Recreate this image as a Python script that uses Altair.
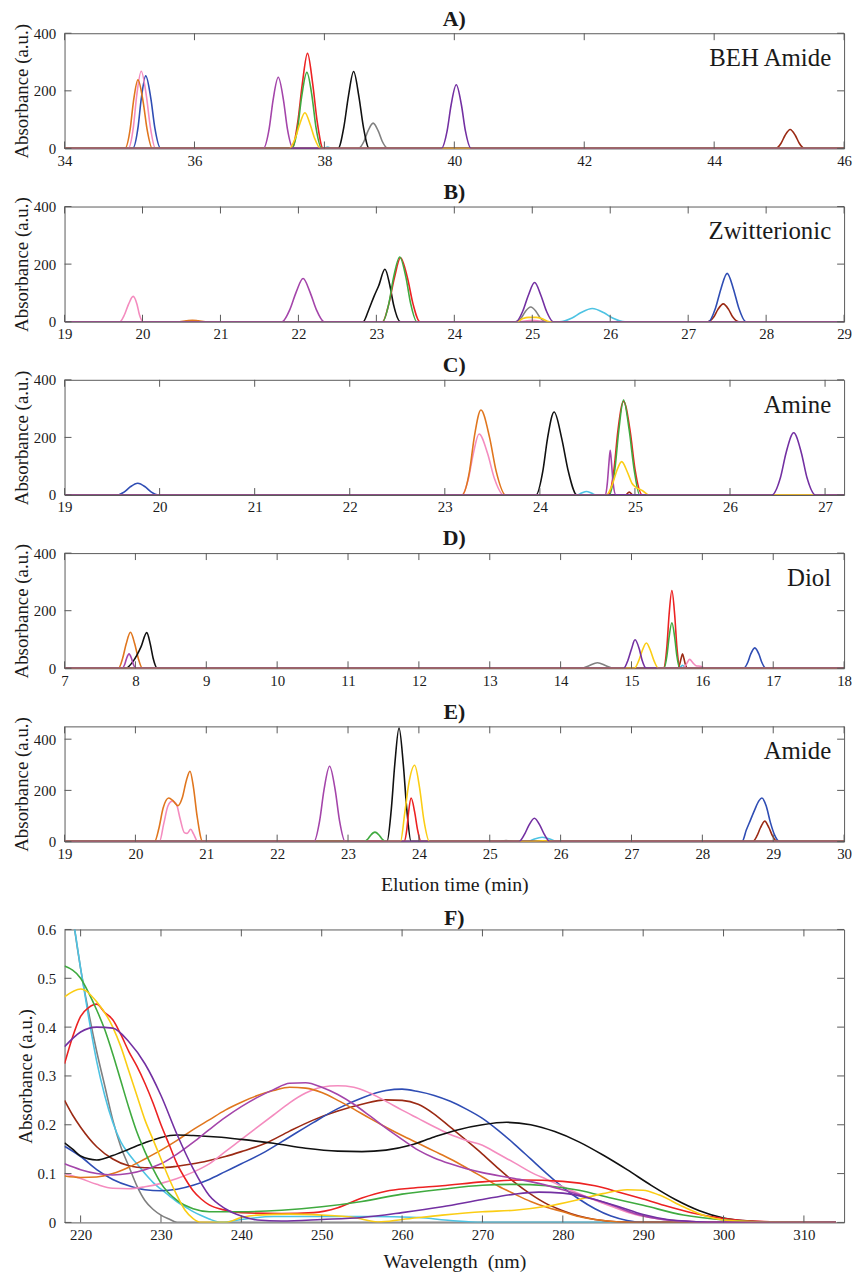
import altair as alt
import pandas as pd

FONT = "Liberation Serif"
FRAME = "#5a5a5a"
INK = "#1a1a1a"
PLOT_W = 785
PANEL_H = 116
F_H = 295

COLORS = {
    "gray": "#808080", "cyan": "#4dc3e3", "brown": "#9b2a14", "blue": "#2f4db4",
    "pink": "#f48cbf", "orange": "#e0761e", "black": "#111111", "red": "#ec2222",
    "green": "#3faa3f", "magenta": "#a445aa", "yellow": "#fbcd14", "purple": "#7330a2",
}
# later traces are painted over earlier ones
DRAW_ORDER = ["gray", "cyan", "brown", "blue", "pink", "orange", "black",
              "red", "green", "magenta", "yellow", "purple"]

# ---- chromatogram peaks: (elution times in min, absorbance) per compound ----
A_PEAKS = {
    "orange": ([34.93, 35.01, 35.06, 35.13, 35.21, 35.27, 35.35], [0, 67, 162, 238, 162, 67, 0]),
    "pink": ([34.98, 35.06, 35.11, 35.18, 35.26, 35.32, 35.40], [0, 75, 182, 268, 182, 75, 0]),
    "blue": ([35.05, 35.13, 35.18, 35.25, 35.33, 35.39, 35.48], [0, 71, 171, 252, 171, 71, 0]),
    "magenta": ([37.06, 37.15, 37.21, 37.29, 37.37, 37.43, 37.52], [0, 69, 168, 247, 168, 69, 0]),
    "red": ([37.50, 37.59, 37.66, 37.74, 37.82, 37.89, 37.98], [0, 92, 224, 330, 224, 92, 0]),
    "green": ([37.50, 37.59, 37.65, 37.73, 37.81, 37.87, 37.96], [0, 74, 180, 264, 180, 74, 0]),
    "yellow": ([37.46, 37.55, 37.62, 37.70, 37.78, 37.85, 37.94], [0, 35, 84, 124, 84, 35, 0]),
    "cyan": ([37.99, 38.05, 38.11], [0, 5, 0]),
    "black": ([38.21, 38.30, 38.37, 38.45, 38.53, 38.60, 38.69], [0, 75, 182, 267, 182, 75, 0]),
    "gray": ([38.52, 38.61, 38.67, 38.75, 38.83, 38.89, 38.98], [0, 25, 60, 88, 60, 25, 0]),
    "purple": ([39.80, 39.89, 39.95, 40.03, 40.11, 40.17, 40.26], [0, 62, 150, 221, 150, 62, 0]),
    "brown": ([44.95, 45.03, 45.09, 45.17, 45.25, 45.31, 45.39], [0, 18, 45, 66, 45, 18, 0]),
}

B_PEAKS = {
    "pink": ([19.71, 19.77, 19.82, 19.88, 19.93, 19.96, 20.01, 24.82, 25.00, 25.18],
             [0, 25, 60, 88, 60, 25, 0, 0, 5, 0]),
    "orange": ([20.44, 20.56, 20.64, 20.72, 20.84], [0, 3, 5, 3, 0]),
    "magenta": ([21.79, 21.89, 21.97, 22.06, 22.15, 22.23, 22.33], [0, 42, 102, 150, 102, 42, 0]),
    "black": ([22.83, 22.90, 22.97, 23.03, 23.11, 23.17, 23.22, 23.31], [0, 40, 88, 125, 182, 130, 60, 0]),
    "red": ([23.08, 23.16, 23.23, 23.31, 23.40, 23.47, 23.56], [0, 62, 151, 222, 151, 62, 0]),
    "green": ([23.08, 23.16, 23.22, 23.30, 23.38, 23.44, 23.52], [0, 63, 153, 225, 153, 63, 0]),
    "gray": ([24.78, 24.86, 24.91, 24.98, 25.05, 25.10, 25.18], [0, 14, 35, 51, 35, 14, 0]),
    "yellow": ([24.80, 24.88, 24.95, 25.05, 25.12, 25.22], [0, 11, 15, 15, 11, 0]),
    "purple": ([24.79, 24.88, 24.95, 25.03, 25.11, 25.18, 25.27], [0, 38, 92, 136, 92, 38, 0]),
    "cyan": ([25.35, 25.51, 25.62, 25.77, 25.92, 26.03, 26.19], [0, 13, 31, 46, 31, 13, 0]),
    "brown": ([27.25, 27.33, 27.38, 27.45, 27.52, 27.57, 27.65], [0, 17, 42, 62, 42, 17, 0]),
    "blue": ([27.26, 27.35, 27.42, 27.50, 27.58, 27.65, 27.74], [0, 47, 114, 168, 114, 47, 0]),
}

C_PEAKS = {
    "blue": ([19.54, 19.63, 19.69, 19.77, 19.85, 19.91, 19.99], [0, 11, 28, 41, 28, 11, 0]),
    "orange": ([23.18, 23.26, 23.31, 23.38, 23.47, 23.54, 23.64], [0, 83, 201, 295, 201, 83, 0]),
    "pink": ([23.18, 23.25, 23.30, 23.36, 23.45, 23.52, 23.62], [0, 59, 144, 212, 144, 59, 0]),
    "black": ([23.96, 24.03, 24.08, 24.15, 24.23, 24.30, 24.39], [0, 81, 196, 288, 196, 81, 0]),
    "cyan": ([24.39, 24.44, 24.49, 24.54, 24.59], [0, 7, 12, 7, 0]),
    "magenta": ([24.69, 24.71, 24.725, 24.74, 24.755, 24.77, 24.80], [0, 43, 105, 155, 105, 43, 0]),
    "red": ([24.72, 24.78, 24.82, 24.88, 24.95, 25.00, 25.08], [0, 91, 221, 325, 221, 91, 0]),
    "green": ([24.73, 24.79, 24.83, 24.88, 24.94, 24.99, 25.05], [0, 92, 224, 330, 224, 92, 0]),
    "yellow": ([24.70, 24.76, 24.81, 24.86, 24.92, 24.97, 25.02, 25.08, 25.15],
               [0, 35, 85, 116, 80, 40, 25, 15, 0]),
    "brown": ([24.90, 24.94, 24.98], [0, 10, 0]),
    "purple": ([26.44, 26.53, 26.59, 26.67, 26.75, 26.81, 26.90], [0, 60, 147, 216, 147, 60, 0]),
}

D_PEAKS = {
    "orange": ([7.76, 7.82, 7.87, 7.93, 7.99, 8.04, 8.10], [0, 35, 85, 125, 85, 35, 0]),
    "magenta": ([7.81, 7.85, 7.875, 7.91, 7.945, 7.97, 8.01], [0, 14, 34, 50, 34, 14, 0]),
    "black": ([7.86, 7.97, 8.08, 8.16, 8.21, 8.25, 8.31], [0, 25, 75, 124, 84, 35, 0]),
    "gray": ([14.30, 14.40, 14.52, 14.64, 14.74], [0, 9, 19, 9, 0]),
    "purple": ([14.89, 14.95, 15.00, 15.05, 15.11, 15.15, 15.21], [0, 28, 67, 99, 67, 28, 0]),
    "yellow": ([15.04, 15.10, 15.15, 15.21, 15.27, 15.32, 15.38], [0, 25, 60, 88, 60, 25, 0]),
    "red": ([15.45, 15.50, 15.53, 15.57, 15.61, 15.64, 15.69], [0, 76, 184, 270, 184, 76, 0]),
    "green": ([15.46, 15.50, 15.53, 15.57, 15.61, 15.64, 15.68], [0, 44, 107, 158, 107, 44, 0]),
    "brown": ([15.65, 15.68, 15.70, 15.72, 15.74, 15.76, 15.79], [0, 14, 34, 50, 34, 14, 0]),
    "cyan": ([15.67, 15.72, 15.77], [0, 10, 0]),
    "pink": ([15.72, 15.76, 15.79, 15.82, 15.87, 15.91, 15.97, 16.05], [0, 9, 21, 31, 18, 9, 7, 0]),
    "blue": ([16.58, 16.64, 16.68, 16.74, 16.80, 16.84, 16.90], [0, 20, 48, 71, 48, 20, 0]),
}

E_PEAKS = {
    "orange": ([20.27, 20.33, 20.39, 20.47, 20.53, 20.60, 20.66, 20.72, 20.77, 20.82, 20.87, 20.95],
               [0, 50, 130, 170, 160, 140, 170, 240, 275, 210, 100, 0]),
    "pink": ([20.34, 20.40, 20.46, 20.52, 20.58, 20.63, 20.69, 20.73, 20.78, 20.82, 20.88],
             [0, 70, 140, 158, 145, 90, 35, 32, 48, 30, 0]),
    "magenta": ([22.52, 22.60, 22.66, 22.74, 22.82, 22.88, 22.96], [0, 82, 200, 294, 200, 82, 0]),
    "green": ([23.22, 23.28, 23.32, 23.38, 23.44, 23.48, 23.54], [0, 10, 25, 37, 25, 10, 0]),
    "black": ([23.55, 23.61, 23.66, 23.72, 23.78, 23.83, 23.89], [0, 124, 302, 444, 302, 124, 0]),
    "yellow": ([23.74, 23.80, 23.86, 23.94, 24.01, 24.07, 24.15, 25.55, 25.75, 25.95],
               [0, 110, 230, 298, 210, 85, 0, 0, 3, 0]),
    "red": ([23.79, 23.83, 23.855, 23.89, 23.94, 23.98, 24.03], [0, 48, 116, 170, 116, 48, 0]),
    "gray": ([25.10, 25.23, 25.36], [0, 4, 0]),
    "purple": ([25.41, 25.49, 25.55, 25.63, 25.71, 25.77, 25.85], [0, 28, 62, 91, 62, 28, 0]),
    "cyan": ([25.54, 25.62, 25.74, 25.86, 25.94], [0, 9, 17, 9, 0]),
    "blue": ([28.56, 28.62, 28.68, 28.74, 28.80, 28.84, 28.90, 28.96, 29.02, 29.09],
             [0, 45, 85, 125, 160, 170, 140, 75, 25, 0]),
    "brown": ([28.71, 28.77, 28.82, 28.88, 28.94, 28.99, 29.06], [0, 22, 54, 80, 54, 22, 0]),
}

# ---- UV spectra: (wavelength nm, absorbance) ----
F_SPECTRA = {
    "gray": [(218, 0.76), (219, 0.63), (220, 0.52), (221, 0.43), (222, 0.35), (223, 0.28),
             (224, 0.21), (225, 0.155), (226, 0.115), (227, 0.075), (228, 0.045), (229, 0.027),
             (230, 0.015), (231, 0.007), (232, 0.0), (314, 0.0)],
    "cyan": [(218, 0.74), (219, 0.63), (220, 0.52), (221, 0.42), (222, 0.33), (223, 0.26),
             (224, 0.205), (225, 0.165), (226, 0.14), (227, 0.12), (228, 0.1), (229, 0.082),
             (230, 0.068), (231, 0.055), (232, 0.042), (233, 0.032), (234, 0.022), (235, 0.014),
             (236, 0.007), (237.5, 0.0), (240, 0.006), (244, 0.012), (256, 0.012), (262, 0.01),
             (266, 0.004), (270, 0.0), (314, 0.0)],
    "brown": [(218, 0.25), (219, 0.22), (220, 0.195), (222, 0.155), (224, 0.13), (226, 0.116),
              (228, 0.112), (230, 0.112), (232, 0.115), (234, 0.12), (236, 0.127), (238, 0.135),
              (240, 0.145), (243, 0.162), (246, 0.187), (249, 0.21), (252, 0.228), (255, 0.242),
              (258, 0.251), (260, 0.25), (262, 0.242), (264, 0.222), (266, 0.195), (268, 0.168),
              (270, 0.14), (272, 0.11), (274, 0.082), (276, 0.058), (278, 0.038), (280, 0.024),
              (282, 0.013), (284, 0.006), (287, 0.001), (290, 0.0), (314, 0.0)],
    "blue": [(218, 0.156), (220, 0.135), (222, 0.108), (224, 0.088), (226, 0.075), (228, 0.067),
             (230, 0.065), (232, 0.068), (234, 0.076), (236, 0.088), (238, 0.104), (240, 0.12),
             (243, 0.145), (246, 0.175), (249, 0.205), (252, 0.233), (255, 0.255), (258, 0.27),
             (260, 0.273), (262, 0.268), (264, 0.26), (266, 0.248), (268, 0.232), (270, 0.213),
             (272, 0.188), (274, 0.16), (276, 0.13), (278, 0.1), (280, 0.072), (282, 0.048),
             (284, 0.028), (286, 0.013), (288, 0.004), (290, 0.0), (314, 0.0)],
    "pink": [(218, 0.1), (220, 0.09), (222, 0.078), (224, 0.07), (226, 0.069), (228, 0.073),
             (230, 0.08), (232, 0.09), (234, 0.103), (236, 0.12), (238, 0.145), (240, 0.17),
             (242, 0.195), (244, 0.22), (246, 0.245), (248, 0.265), (250, 0.277), (252, 0.28),
             (254, 0.277), (256, 0.265), (258, 0.248), (260, 0.23), (262, 0.213), (264, 0.196),
             (266, 0.18), (268, 0.168), (270, 0.158), (272, 0.14), (274, 0.122), (276, 0.103),
             (278, 0.088), (280, 0.073), (283, 0.052), (286, 0.033), (289, 0.016), (292, 0.007),
             (296, 0.002), (300, 0.0), (314, 0.0)],
    "orange": [(218, 0.095), (220, 0.092), (222, 0.093), (224, 0.1), (226, 0.113), (228, 0.13),
               (230, 0.148), (232, 0.168), (234, 0.19), (236, 0.21), (238, 0.23), (240, 0.246),
               (242, 0.26), (244, 0.27), (246, 0.277), (248, 0.275), (250, 0.266), (252, 0.25),
               (254, 0.232), (256, 0.213), (258, 0.195), (260, 0.178), (262, 0.162), (264, 0.146),
               (266, 0.13), (268, 0.112), (270, 0.093), (272, 0.074), (274, 0.058), (276, 0.043),
               (278, 0.031), (280, 0.022), (282, 0.012), (284, 0.006), (287, 0.001), (290, 0.0),
               (314, 0.0)],
    "black": [(218, 0.163), (219, 0.15), (220, 0.136), (222, 0.128), (224, 0.137), (226, 0.15),
              (228, 0.163), (230, 0.174), (232, 0.179), (234, 0.178), (237, 0.175), (240, 0.17),
              (244, 0.162), (248, 0.152), (252, 0.146), (255, 0.145), (258, 0.148), (261, 0.158),
              (264, 0.175), (267, 0.19), (270, 0.2), (273, 0.205), (276, 0.2), (279, 0.186),
              (282, 0.165), (285, 0.138), (288, 0.108), (291, 0.076), (294, 0.047), (297, 0.024),
              (300, 0.009), (303, 0.003), (306, 0.001), (314, 0.0)],
    "red": [(218, 0.325), (219, 0.38), (220, 0.422), (221, 0.44), (222, 0.447), (223, 0.43),
            (224, 0.415), (225, 0.385), (226, 0.35), (227, 0.32), (228, 0.285), (229, 0.245),
            (230, 0.2), (231, 0.16), (232, 0.12), (233, 0.09), (234, 0.065), (235, 0.048),
            (236, 0.036), (238, 0.025), (240, 0.02), (245, 0.018), (249, 0.02), (252, 0.03),
            (255, 0.05), (258, 0.064), (261, 0.07), (265, 0.075), (270, 0.083), (275, 0.087),
            (280, 0.084), (284, 0.075), (287, 0.062), (290, 0.048), (293, 0.033), (296, 0.02),
            (300, 0.008), (305, 0.002), (314, 0.0)],
    "green": [(218, 0.525), (220, 0.5), (221, 0.47), (222, 0.435), (223, 0.395), (224, 0.345),
              (225, 0.29), (226, 0.235), (227, 0.185), (228, 0.145), (229, 0.11), (230, 0.08),
              (232, 0.045), (234, 0.028), (236, 0.022), (240, 0.022), (245, 0.025), (250, 0.032),
              (255, 0.043), (260, 0.058), (265, 0.068), (270, 0.076), (274, 0.078), (278, 0.075),
              (282, 0.066), (286, 0.05), (290, 0.035), (295, 0.015), (300, 0.005), (305, 0.001),
              (314, 0.0)],
    "magenta": [(218, 0.12), (220, 0.108), (222, 0.1), (224, 0.097), (226, 0.1), (228, 0.108),
                (230, 0.12), (232, 0.14), (234, 0.164), (236, 0.19), (238, 0.215), (240, 0.237),
                (242, 0.256), (244, 0.272), (246, 0.285), (248, 0.286), (250, 0.277), (252, 0.262),
                (254, 0.242), (256, 0.218), (258, 0.193), (260, 0.17), (262, 0.148), (264, 0.132),
                (266, 0.12), (268, 0.11), (270, 0.102), (274, 0.09), (277, 0.08), (280, 0.067),
                (283, 0.052), (286, 0.036), (289, 0.018), (292, 0.007), (296, 0.002), (300, 0.0),
                (314, 0.0)],
    "yellow": [(218, 0.462), (220, 0.478), (222, 0.452), (224, 0.4), (225, 0.36), (226, 0.31),
               (227, 0.26), (228, 0.21), (229, 0.17), (230, 0.13), (231, 0.09), (232, 0.055),
               (233, 0.025), (234, 0.008), (235, 0.0), (238, 0.0), (240, 0.01), (242, 0.015),
               (246, 0.017), (250, 0.015), (254, 0.01), (257, 0.001), (260, 0.006), (265, 0.015),
               (270, 0.022), (274, 0.025), (278, 0.033), (282, 0.047), (285, 0.059), (288, 0.067),
               (290, 0.066), (292, 0.056), (295, 0.032), (298, 0.012), (300, 0.005), (305, 0.001),
               (314, 0.0)],
    "purple": [(218, 0.36), (220, 0.39), (222, 0.4), (224, 0.398), (226, 0.37), (228, 0.325),
               (230, 0.26), (232, 0.18), (234, 0.11), (236, 0.055), (238, 0.028), (240, 0.013),
               (242, 0.005), (245, 0.003), (250, 0.006), (255, 0.01), (260, 0.02), (265, 0.032),
               (270, 0.047), (274, 0.058), (277, 0.062), (280, 0.06), (284, 0.047), (287, 0.032),
               (290, 0.016), (293, 0.006), (296, 0.002), (300, 0.0), (314, 0.0)],
}


def make_panel(title, label, traces, xdom, xticks, ydom, yticks, height,
               xtitle=None, xtitle_pad=13, yformat="d", add_baseline=True):
    xs = alt.Scale(domain=xdom, nice=False, zero=False)
    ys = alt.Scale(domain=ydom, nice=False, zero=False)
    xax = alt.Axis(values=xticks, ticks=False, domain=False, grid=False,
                   labelFont=FONT, labelFontSize=15, labelColor=INK, labelPadding=5,
                   labelFlush=False, labelOverlap=False, title=xtitle,
                   titleFont=FONT, titleFontSize=20, titleFontWeight="normal",
                   titleColor=INK, titlePadding=xtitle_pad)
    yax = alt.Axis(values=yticks, ticks=False, domain=False, grid=False, format=yformat,
                   labelFont=FONT, labelFontSize=15, labelColor=INK, labelPadding=9,
                   labelFlush=False, labelOverlap=False, title="Absorbance (a.u.)",
                   titleFont=FONT, titleFontSize=19, titleFontWeight="normal",
                   titleColor=INK, titlePadding=2)
    X = alt.X("x:Q", scale=xs, axis=xax)
    Y = alt.Y("y:Q", scale=ys, axis=yax)

    layers = []
    for name in DRAW_ORDER:
        if name in traces:
            px, py = traces[name]
            px, py = list(px), list(py)
        else:
            px, py = [], []
        if add_baseline:
            px = [xdom[0]] + px + [xdom[1]]
            py = [0] + py + [0]
        if not px:
            continue
        df = pd.DataFrame({"x": px, "y": py})
        layers.append(
            alt.Chart(df).mark_line(color=COLORS[name], strokeWidth=1.6,
                                    interpolate="monotone", clip=True)
            .encode(x=X, y=Y)
        )

    # inward tick marks on all four sides of the frame
    xt = pd.DataFrame({"x": xticks})
    yt = pd.DataFrame({"y": yticks})
    rule = dict(color=FRAME, strokeWidth=1)
    layers += [
        alt.Chart(xt).mark_rule(**rule).encode(x=X, y=alt.value(height), y2=alt.value(height - 7)),
        alt.Chart(xt).mark_rule(**rule).encode(x=X, y=alt.value(0), y2=alt.value(7)),
        alt.Chart(yt).mark_rule(**rule).encode(y=Y, x=alt.value(0), x2=alt.value(7)),
        alt.Chart(yt).mark_rule(**rule).encode(y=Y, x=alt.value(PLOT_W - 7), x2=alt.value(PLOT_W)),
    ]

    if label:
        layers.append(
            alt.Chart(pd.DataFrame({"t": [label]}))
            .mark_text(align="right", baseline="alphabetic", font=FONT, fontSize=25, color=INK)
            .encode(text="t:N", x=alt.value(PLOT_W - 13), y=alt.value(33))
        )

    return alt.layer(*layers).properties(
        width=PLOT_W, height=height,
        title=alt.TitleParams(text=title, font=FONT, fontSize=22, fontWeight="bold",
                              color=INK, anchor="middle", offset=-7),
    )


def spectra_traces():
    out = {}
    for name, pts in F_SPECTRA.items():
        out[name] = ([p[0] for p in pts], [p[1] for p in pts])
    return out


panel_a = make_panel("A)", "BEH Amide", A_PEAKS, [34, 46], list(range(34, 47, 2)),
                     [0, 400], [0, 200, 400], PANEL_H)
panel_b = make_panel("B)", "Zwitterionic", B_PEAKS, [19, 29], list(range(19, 30)),
                     [0, 400], [0, 200, 400], PANEL_H)
panel_c = make_panel("C)", "Amine", C_PEAKS, [19, 27.2], list(range(19, 28)),
                     [0, 400], [0, 200, 400], PANEL_H)
panel_d = make_panel("D)", "Diol", D_PEAKS, [7, 18], list(range(7, 19)),
                     [0, 400], [0, 200, 400], PANEL_H)
panel_e = make_panel("E)", "Amide", E_PEAKS, [19, 30], list(range(19, 31)),
                     [0, 450], [0, 200, 400], PANEL_H, xtitle="Elution time (min)")
panel_f = make_panel("F)", None, spectra_traces(), [218, 315], list(range(220, 311, 10)),
                     [0, 0.6], [0, 0.1, 0.2, 0.3, 0.4, 0.5, 0.6], F_H,
                     xtitle="Wavelength\u00a0 (nm)", xtitle_pad=9, yformat=".1~f",
                     add_baseline=False)

chart = (
    alt.vconcat(panel_a, panel_b, panel_c, panel_d, panel_e, panel_f, spacing=10.5)
    .configure_view(stroke=FRAME, strokeWidth=1)
    .properties(padding={"left": 11, "top": 2, "right": 5, "bottom": 2}, background="white")
)

chart.save("out.html", embed_options={"renderer": "svg", "actions": False})
